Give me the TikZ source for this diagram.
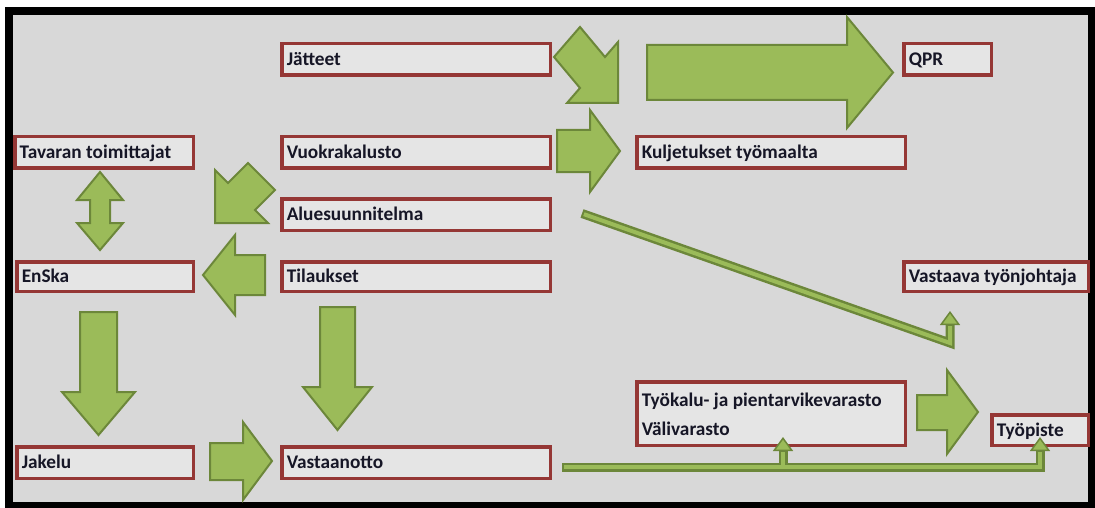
\documentclass[tikz,border=0pt]{standalone}
\usepackage{fontspec}
\setmainfont{Carlito}
\usetikzlibrary{arrows.meta,calc}
\definecolor{bgc}{RGB}{216,216,216}
\definecolor{boxfill}{RGB}{229,229,229}
\definecolor{boxred}{RGB}{149,55,53}
\definecolor{ggreen}{RGB}{155,187,89}
\definecolor{gdark}{RGB}{108,135,58}
\definecolor{txt}{RGB}{22,22,38}
\newcommand{\rbox}[5]{\node[rbox, minimum width={(#4-3.5)*1pt}, minimum height={(#5-3.5)*1pt}] (#1) at ({#2+1.75},{#3+1.75}) {};}
\begin{document}
\begin{tikzpicture}[x=1pt,y=-1pt,
  rbox/.style={draw=boxred, line width=3.5pt, fill=boxfill, inner sep=0pt, outer sep=0pt, anchor=north west},
  lbl/.style={inner sep=0pt, outer sep=0pt, anchor=base west, text=txt, font=\fontsize{19.3}{23}\selectfont\bfseries},
  blk/.style={draw=gdark, line width=2pt, fill=ggreen, line join=miter},
  tout/.style={draw=gdark, line width=9pt, line join=miter, -{Triangle[length=14pt,width=20pt,line width=1.5pt,fill=ggreen]}},
  tin/.style={draw=ggreen, line width=4pt, line join=miter, shorten >=15pt, shorten <=2pt}
]
\useasboundingbox (0,0) rectangle (1095,508);
\fill[white] (0,0) rectangle (1095,508);
\draw[line width=8pt, fill=bgc] (9,11) rectangle (1092,506);

% boxes
\rbox{jat}{280}{42}{272}{35}
\rbox{tav}{13}{135}{182}{35}
\rbox{vuo}{280}{135}{272}{35}
\rbox{alue}{280}{197}{272}{35}
\rbox{ens}{15}{260}{180}{33}
\rbox{til}{280}{260}{272}{33}
\rbox{jak}{15}{445}{180}{35}
\rbox{vas}{280}{445}{272}{35}
\rbox{kul}{635}{135}{272}{35}
\rbox{qpr}{902}{42}{91}{35}
\rbox{vtj}{902}{260}{188}{33}
\rbox{tyk}{635}{380}{272}{67}
\rbox{typ}{990}{413}{100}{34}

% labels
\node[lbl] (jatT) at ([xshift=5pt,yshift=-6pt]jat.west) {Jätteet};
\node[lbl] (tavT) at ([xshift=5pt,yshift=-6pt]tav.west) {Tavaran toimittajat};
\node[lbl] (vuoT) at ([xshift=5pt,yshift=-6pt]vuo.west) {Vuokrakalusto};
\node[lbl] (alueT) at ([xshift=5pt,yshift=-6pt]alue.west) {Aluesuunnitelma};
\node[lbl] (ensT) at ([xshift=5pt,yshift=-6pt]ens.west) {EnSka};
\node[lbl] (tilT) at ([xshift=5pt,yshift=-6pt]til.west) {Tilaukset};
\node[lbl] (jakT) at ([xshift=5pt,yshift=-6pt]jak.west) {Jakelu};
\node[lbl] (vasT) at ([xshift=5pt,yshift=-6pt]vas.west) {Vastaanotto};
\node[lbl] (kulT) at ([xshift=5pt,yshift=-6pt]kul.west) {Kuljetukset työmaalta};
\node[lbl] (qprT) at ([xshift=5pt,yshift=-6pt]qpr.west) {QPR};
\node[lbl] (vtjT) at ([xshift=5pt,yshift=-6pt]vtj.west) {Vastaava työnjohtaja};
\node[lbl] (tykT1) at ([xshift=5pt,yshift=-25pt]tyk.north west) {Työkalu- ja pientarvikevarasto};
\node[lbl] (tykT2) at ([xshift=5pt,yshift=-54pt]tyk.north west) {Välivarasto};
\node[lbl] (typT) at ([xshift=5pt,yshift=-6pt]typ.west) {Työpiste};

% block arrows
\draw[blk] (580,27) -- (605,57) -- (618,42) -- (618,103) -- (567,103) -- (580,88) -- (554,57) -- cycle;
\draw[blk] (647,45) -- (847,45) -- (847,17) -- (893,72.5) -- (847,128) -- (847,100) -- (647,100) -- cycle;
\draw[blk] (557,130) -- (590,130) -- (590,110) -- (620,151) -- (590,192) -- (590,172) -- (557,172) -- cycle;
\draw[blk] (248,163) -- (228,183) -- (215,170) -- (215,223) -- (268,223) -- (255,210) -- (275,190) -- cycle;
\draw[blk] (265,255) -- (235,255) -- (235,235) -- (203,275) -- (235,315) -- (235,295) -- (265,295) -- cycle;
\draw[blk] (100,172) -- (123,200) -- (110,200) -- (110,223) -- (123,223) -- (100,250) -- (77,223) -- (90,223) -- (90,200) -- (77,200) -- cycle;
\draw[blk] (80,312) -- (117,312) -- (117,392) -- (135,392) -- (98.5,435) -- (62,392) -- (80,392) -- cycle;
\draw[blk] (320,307) -- (355,307) -- (355,387) -- (372,387) -- (337.5,430) -- (303,387) -- (320,387) -- cycle;
\draw[blk] (210,443) -- (243,443) -- (243,422) -- (272,461) -- (243,500) -- (243,480) -- (210,480) -- cycle;
\draw[blk] (917,395) -- (947,395) -- (947,370) -- (978,412) -- (947,454) -- (947,430) -- (917,430) -- cycle;

% thin double-line arrows
\coordinate (sA) at ([xshift=31.75pt,yshift=1pt]alue.east);
\coordinate (cA) at (950,343);
\coordinate (tA) at (950,311);
\coordinate (sB) at ([xshift=11.75pt,yshift=-4.5pt]vas.east);
\coordinate (cB) at (1040,467);
\coordinate (tB) at (1040,437);
\coordinate (bB) at (783,467);
\coordinate (tC) at (783,437);
\draw[tout] (sA) -- (cA) -- (tA);
\draw[tout] (sB) -- (cB) -- (tB);
\draw[tout] (bB) -- (tC);
\draw[tin] (sA) -- (cA) -- (tA);
\draw[tin] (sB) -- (cB) -- (tB);
\draw[tin, shorten <=0pt] (bB) -- (tC);
\end{tikzpicture}
\end{document}
